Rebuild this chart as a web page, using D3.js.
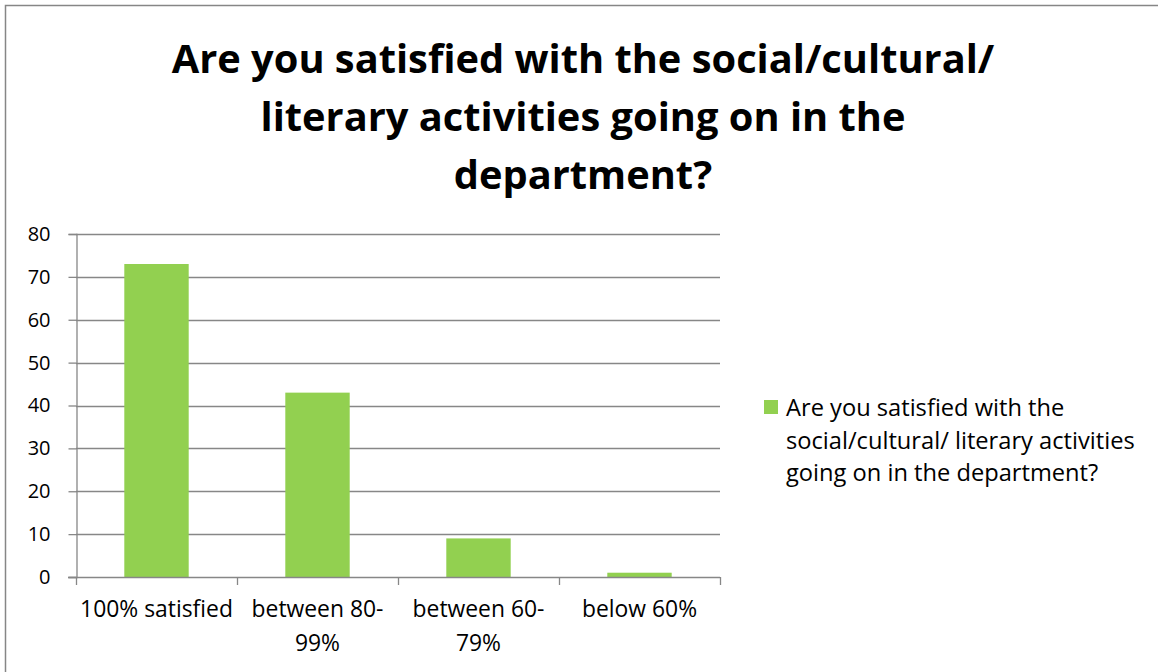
<!DOCTYPE html>
<html>
<head>
<meta charset="utf-8">
<script src="https://cdn.jsdelivr.net/npm/d3@7"></script>
<style>
  html, body { margin: 0; padding: 0; background: #fff; }
  svg { display: block; font-family: "Open Sans", Lato, sans-serif; }
</style>
</head>
<body>
<svg id="chart" width="1158" height="672"></svg>
<script>
// Survey responses per satisfaction band
const categories = ["100% satisfied", "between 80-99%", "between 60-79%", "below 60%"];
const categoryLines = [["100% satisfied"], ["between 80-", "99%"], ["between 60-", "79%"], ["below 60%"]];
const values = [73, 43, 9, 1];
const yTicks = [0, 10, 20, 30, 40, 50, 60, 70, 80];
const titleLines = ["Are you satisfied with the social/cultural/", "literary activities going on in the", "department?"];
const legendLines = ["Are you satisfied with the", "social/cultural/ literary activities", "going on in the department?"];

const svg = d3.select("#chart");
const W = 1158, H = 672;
const plot = { left: 76, right: 720, top: 234, bottom: 577 };
const barColor = "#92D050";
const gridColor = "#878787";

// scale a text block's font so its widest line spans the given width
function fitWidth(sel, width) {
  const fs = +sel.attr("font-size");
  let maxW = 0;
  sel.selectAll("tspan").each(function () { maxW = Math.max(maxW, this.getComputedTextLength()); });
  if (maxW > 0) sel.attr("font-size", fs * width / maxW);
}

svg.append("rect").attr("width", W).attr("height", H).attr("fill", "#fff");
// chart frame
svg.append("rect")
  .attr("x", 5.5).attr("y", 5.5).attr("width", W + 10).attr("height", H + 10)
  .attr("fill", "none").attr("stroke", "#868686").attr("stroke-width", 1.5);

// title
const title = svg.append("text")
  .attr("text-anchor", "middle")
  .attr("font-weight", 700)
  .attr("font-size", 38)
  .attr("fill", "#000");
titleLines.forEach((t, i) => {
  title.append("tspan").attr("x", 583).attr("y", 73 + i * 58).text(t);
});
fitWidth(title, 823);

const x = d3.scaleBand().domain(categories).range([plot.left, plot.right]).padding(0);
const y = d3.scaleLinear().domain([0, 80]).range([plot.bottom, plot.top]);

// gridlines
svg.append("g")
  .selectAll("line").data(yTicks.filter(d => d > 0)).join("line")
  .attr("x1", plot.left).attr("x2", plot.right)
  .attr("y1", d => Math.round(y(d)) + 0.5).attr("y2", d => Math.round(y(d)) + 0.5)
  .attr("stroke", gridColor).attr("stroke-width", 1.3);

// bars: gap width 150% of bar width
const barW = x.bandwidth() / 2.5;
svg.append("g")
  .selectAll("rect").data(values).join("rect")
  .attr("x", (d, i) => x(categories[i]) + (x.bandwidth() - barW) / 2)
  .attr("width", barW)
  .attr("y", d => y(d))
  .attr("height", d => y(0) - y(d))
  .attr("fill", barColor);

// y axis
const yAxis = svg.append("g")
  .attr("transform", `translate(${plot.left + 0.5},0)`)
  .call(d3.axisLeft(y).tickValues(yTicks).tickSize(8).tickPadding(18).tickFormat(d3.format("d")));
yAxis.select(".domain").attr("stroke", gridColor).attr("stroke-width", 1.3);
yAxis.selectAll(".tick line").attr("stroke", gridColor).attr("stroke-width", 1.3);
yAxis.selectAll(".tick text").attr("font-size", 20).attr("fill", "#000")
  .attr("font-family", "'Open Sans', sans-serif");

// x axis
const xAxis = svg.append("g")
  .attr("transform", `translate(0,${Math.round(y(0)) + 0.5})`)
  .call(d3.axisBottom(x).tickSize(0).tickFormat(""));
xAxis.select(".domain").attr("stroke", gridColor).attr("stroke-width", 1.3)
  .attr("d", `M${plot.left - 8},0H${plot.right}`);
xAxis.selectAll(".tick line").remove();
// category boundary ticks
svg.append("g")
  .selectAll("line").data(d3.range(categories.length + 1)).join("line")
  .attr("x1", i => Math.round(plot.left + i * x.step()) + 0.5)
  .attr("x2", i => Math.round(plot.left + i * x.step()) + 0.5)
  .attr("y1", y(0)).attr("y2", y(0) + 8)
  .attr("stroke", gridColor).attr("stroke-width", 1.3);

// category labels
const labels = svg.append("g")
  .selectAll("text").data(categories).join("text")
  .attr("text-anchor", "middle")
  .attr("font-size", 20)
  .attr("fill", "#000");
labels.each(function (d, i) {
  const cx = x(d) + x.bandwidth() / 2;
  categoryLines[i].forEach((line, j) => {
    d3.select(this).append("tspan").attr("x", cx).attr("y", 617 + j * 34).text(line);
  });
});
fitWidth(d3.select(labels.nodes()[0]), 153);
labels.attr("font-size", d3.select(labels.nodes()[0]).attr("font-size"));

// legend
const legend = svg.append("g");
legend.append("rect").attr("x", 764).attr("y", 400).attr("width", 14).attr("height", 14).attr("fill", barColor);
const lt = legend.append("text").attr("font-size", 20).attr("fill", "#000");
legendLines.forEach((t, i) => {
  lt.append("tspan").attr("x", 786).attr("y", 416 + i * 32.5).text(t);
});
fitWidth(lt, 349);
</script>
</body>
</html>
